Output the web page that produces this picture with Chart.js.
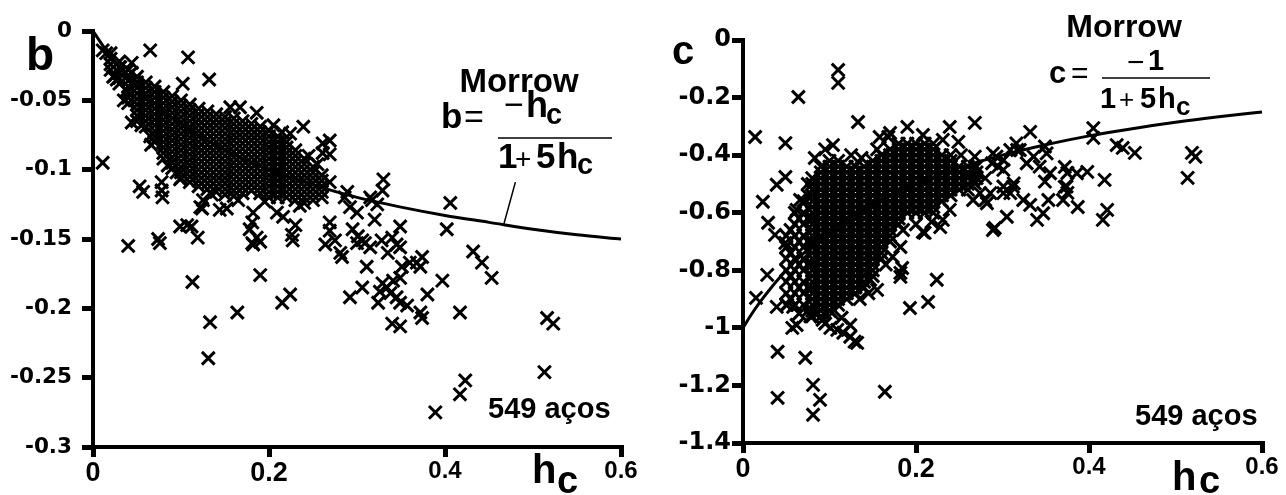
<!DOCTYPE html>
<html>
<head>
<meta charset="utf-8">
<script src="https://cdn.jsdelivr.net/npm/chart.js@4.4.1/dist/chart.umd.min.js"></script>
<style>
  body { margin: 0; background: #fff; }
  #wrap { display: flex; width: 1286px; height: 495px; }
  canvas { display: block; }
</style>
</head>
<body>
<div id="wrap">
  <canvas id="chartB" width="643" height="495"></canvas>
  <canvas id="chartC" width="643" height="495"></canvas>
</div>
<script>
const FONT = "'Liberation Sans', Arial, sans-serif";
const TICK_FONT = "'DejaVu Sans', sans-serif";

// Morrow curve
const curveHc = [0, 0.01, 0.02, 0.03, 0.05, 0.075, 0.1, 0.15, 0.2, 0.25, 0.3, 0.35, 0.4, 0.45, 0.5, 0.55, 0.6];
const curveB = [0, -0.0095, -0.018, -0.026, -0.04, -0.055, -0.067, -0.086, -0.1, -0.111, -0.12, -0.127, -0.133, -0.138, -0.143, -0.147, -0.15];
const curveC = [-1, -0.952, -0.909, -0.87, -0.8, -0.727, -0.667, -0.571, -0.5, -0.444, -0.4, -0.364, -0.333, -0.308, -0.286, -0.267, -0.25];

// pointer from the formula to the curve (left panel)
const leaderHc = [0.48, 0.467];
const leaderB = [-0.109, -0.139];

const xTicks = [0, 0.2, 0.4, 0.6];

// left panel: isolated points [hc, b]
const bLoose = [
  [0.011,-0.014],[0.065,-0.014],[0.108,-0.019],[0.132,-0.035],[0.102,-0.038],[0.025,-0.032],[0.015,-0.016],
  [0.023,-0.033],[0.031,-0.026],[0.044,-0.023],[0.044,-0.03],[0.038,-0.043],[0.027,-0.035],[0.044,-0.066],
  [0.011,-0.095],[0.053,-0.112],[0.057,-0.116],[0.078,-0.109],[0.078,-0.115],[0.079,-0.12],[0.099,-0.107],
  [0.065,-0.076],[0.122,-0.127],[0.099,-0.141],[0.112,-0.141],[0.074,-0.15],[0.076,-0.153],[0.119,-0.149],
  [0.107,-0.14],[0.04,-0.155],[0.144,-0.129],[0.125,-0.122],[0.124,-0.128],[0.152,-0.128],[0.156,-0.055],
  [0.167,-0.055],[0.186,-0.059],[0.224,-0.074],[0.239,-0.069],[0.261,-0.081],[0.261,-0.088],[0.113,-0.181],
  [0.133,-0.21],[0.131,-0.236],[0.164,-0.203],[0.182,-0.154],[0.19,-0.152],[0.19,-0.176],[0.215,-0.196],
  [0.224,-0.19],[0.227,-0.151],[0.226,-0.147],[0.23,-0.14],[0.186,-0.149],[0.181,-0.153],[0.178,-0.143],
  [0.181,-0.138],[0.182,-0.131],[0.209,-0.131],[0.216,-0.134],[0.264,-0.154],
  [0.269,-0.079],[0.269,-0.089],[0.269,-0.109],[0.33,-0.107],[0.329,-0.115],[0.317,-0.122],[0.286,-0.12],
  [0.289,-0.116],[0.292,-0.127],[0.3,-0.131],[0.315,-0.12],[0.323,-0.125],[0.406,-0.124],[0.402,-0.143],
  [0.349,-0.141],[0.32,-0.136],[0.269,-0.138],[0.269,-0.144],[0.275,-0.151],[0.283,-0.163],[0.295,-0.143],
  [0.301,-0.148],[0.309,-0.153],[0.432,-0.159],[0.442,-0.167],[0.453,-0.178],[0.397,-0.18],[0.417,-0.203],
  [0.516,-0.207],[0.523,-0.211],[0.513,-0.246],[0.423,-0.252],[0.417,-0.262],[0.389,-0.275],
  [0.3,-0.153],[0.281,-0.16],[0.306,-0.151],[0.315,-0.156],[0.328,-0.151],[0.34,-0.149],[0.349,-0.156],
  [0.335,-0.16],[0.345,-0.154],[0.311,-0.17],[0.306,-0.185],[0.292,-0.192],[0.324,-0.196],[0.334,-0.185],
  [0.338,-0.189],[0.345,-0.192],[0.357,-0.198],[0.349,-0.178],[0.351,-0.17],[0.368,-0.167],[0.374,-0.163],
  [0.372,-0.17],[0.38,-0.19],[0.372,-0.203],[0.374,-0.207],[0.34,-0.211],[0.349,-0.213],[0.329,-0.182],
  [0.341,-0.18],[0.36,-0.167],[0.326,-0.188],[0.349,-0.196],
  [0.035,-0.05],[0.055,-0.068],[0.066,-0.082],[0.085,-0.097],[0.095,-0.102],[0.205,-0.068],[0.215,-0.073],
  [0.245,-0.09],[0.255,-0.096],[0.235,-0.126],[0.195,-0.123],[0.165,-0.122],[0.135,-0.118]
];

// left panel: dense band, [hc, [b values]]
const bBand = [
  [0.02, [-0.016, -0.02, -0.024, -0.028]],
  [0.03, [-0.022, -0.026, -0.03, -0.034, -0.038]],
  [0.04, [-0.028, -0.032, -0.036, -0.04, -0.044, -0.048, -0.052]],
  [0.05, [-0.033, -0.037, -0.041, -0.045, -0.049, -0.053, -0.057, -0.061, -0.065]],
  [0.06, [-0.037, -0.041, -0.045, -0.049, -0.053, -0.057, -0.061, -0.065, -0.069]],
  [0.07, [-0.04, -0.044, -0.048, -0.052, -0.056, -0.06, -0.064, -0.068, -0.072, -0.076, -0.08]],
  [0.08, [-0.044, -0.048, -0.052, -0.056, -0.06, -0.064, -0.068, -0.072, -0.076, -0.08, -0.084, -0.088, -0.092]],
  [0.09, [-0.047, -0.051, -0.055, -0.059, -0.063, -0.067, -0.071, -0.075, -0.079, -0.083, -0.087, -0.091, -0.095, -0.099]],
  [0.1, [-0.05, -0.054, -0.058, -0.062, -0.066, -0.07, -0.074, -0.078, -0.082, -0.086, -0.09, -0.094, -0.098, -0.102, -0.106]],
  [0.11, [-0.053, -0.057, -0.061, -0.065, -0.069, -0.073, -0.077, -0.081, -0.085, -0.089, -0.093, -0.097, -0.101, -0.105, -0.109]],
  [0.12, [-0.056, -0.06, -0.064, -0.068, -0.072, -0.076, -0.08, -0.084, -0.088, -0.092, -0.096, -0.1, -0.104, -0.108, -0.112]],
  [0.13, [-0.058, -0.062, -0.066, -0.07, -0.074, -0.078, -0.082, -0.086, -0.09, -0.094, -0.098, -0.102, -0.106, -0.11, -0.114]],
  [0.14, [-0.06, -0.064, -0.068, -0.072, -0.076, -0.08, -0.084, -0.088, -0.092, -0.096, -0.1, -0.104, -0.108, -0.112, -0.116]],
  [0.15, [-0.062, -0.066, -0.07, -0.074, -0.078, -0.082, -0.086, -0.09, -0.094, -0.098, -0.102, -0.106, -0.11, -0.114, -0.118]],
  [0.16, [-0.063, -0.067, -0.071, -0.075, -0.079, -0.083, -0.087, -0.091, -0.095, -0.099, -0.103, -0.107, -0.111, -0.115, -0.119]],
  [0.17, [-0.065, -0.069, -0.073, -0.077, -0.081, -0.085, -0.089, -0.093, -0.097, -0.101, -0.105, -0.109, -0.113, -0.117]],
  [0.18, [-0.067, -0.071, -0.075, -0.079, -0.083, -0.087, -0.091, -0.095, -0.099, -0.103, -0.107, -0.111, -0.115]],
  [0.19, [-0.069, -0.073, -0.077, -0.081, -0.085, -0.089, -0.093, -0.097, -0.101, -0.105, -0.109, -0.113, -0.117]],
  [0.2, [-0.072, -0.076, -0.08, -0.084, -0.088, -0.092, -0.096, -0.1, -0.104, -0.108, -0.112, -0.116, -0.12]],
  [0.21, [-0.076, -0.08, -0.084, -0.088, -0.092, -0.096, -0.1, -0.104, -0.108, -0.112, -0.116, -0.12]],
  [0.22, [-0.08, -0.084, -0.088, -0.092, -0.096, -0.1, -0.104, -0.108, -0.112, -0.116, -0.12]],
  [0.23, [-0.086, -0.09, -0.094, -0.098, -0.102, -0.106, -0.11, -0.114, -0.118, -0.122]],
  [0.24, [-0.092, -0.096, -0.1, -0.104, -0.108, -0.112, -0.116, -0.12, -0.124]],
  [0.25, [-0.098, -0.102, -0.106, -0.11, -0.114, -0.118, -0.122]],
  [0.26, [-0.104, -0.108, -0.112, -0.116, -0.12]]
];

// right panel: isolated points [hc, c]
const cLoose = [
  [0.11,-0.104],[0.11,-0.149],[0.064,-0.198],[0.133,-0.285],[0.014,-0.337],[0.049,-0.358],[0.039,-0.503],
  [0.049,-0.476],[0.023,-0.562],[0.029,-0.635],[0.037,-0.677],[0.049,-0.705],[0.028,-0.816],[0.015,-0.896],
  [0.039,-0.927],[0.051,-0.92],[0.058,-0.927],[0.057,-1.0],[0.062,-0.99],[0.04,-1.083],[0.072,-1.104],
  [0.04,-1.243],[0.081,-1.198],[0.089,-1.25],[0.081,-1.302],[0.164,-1.222],[0.193,-0.931],[0.214,-0.91],
  [0.224,-0.833],[0.132,-1.052],[0.129,-1.048],[0.19,-0.302],[0.239,-0.302],[0.158,-0.337],[0.17,-0.323],
  [0.168,-0.337],[0.208,-0.33],[0.231,-0.347],[0.249,-0.354],[0.208,-0.667],[0.218,-0.632],[0.231,-0.625],
  [0.21,-0.67],[0.228,-0.65],[0.239,-0.59],[0.182,-0.823],[0.184,-0.792],[0.182,-0.809],[0.173,-0.753],
  [0.182,-0.719],[0.155,-0.868],[0.147,-0.833],[0.066,-0.556],[0.062,-0.59],
  [0.086,-0.948],[0.092,-0.972],[0.101,-1.0],[0.109,-1.007],[0.116,-1.017],[0.124,-1.031],[0.103,-0.948],
  [0.114,-0.965],[0.124,-0.99],[0.078,-0.96],[0.095,-0.985],
  [0.268,-0.288],[0.332,-0.319],[0.405,-0.306],[0.405,-0.34],[0.432,-0.365],[0.439,-0.375],[0.453,-0.392],
  [0.519,-0.392],[0.523,-0.406],[0.514,-0.479],[0.418,-0.486],[0.398,-0.458],[0.421,-0.59],[0.416,-0.625],
  [0.387,-0.58],[0.375,-0.462],[0.372,-0.441],[0.372,-0.51],[0.375,-0.531],[0.289,-0.66],[0.305,-0.614],
  [0.34,-0.625],[0.347,-0.602],[0.353,-0.556],[0.324,-0.556],[0.332,-0.573],[0.349,-0.492],[0.355,-0.463],
  [0.343,-0.44],[0.328,-0.428],[0.336,-0.405],[0.32,-0.382],[0.316,-0.359],[0.309,-0.382],[0.293,-0.405],
  [0.288,-0.428],[0.295,-0.44],[0.301,-0.451],[0.268,-0.405],[0.268,-0.44],[0.266,-0.486],[0.268,-0.498],
  [0.274,-0.532],[0.28,-0.556],[0.286,-0.532],[0.301,-0.509],[0.309,-0.532],[0.313,-0.498],[0.351,-0.394],
  [0.349,-0.37],[0.37,-0.556],[0.374,-0.509],[0.386,-0.463],[0.289,-0.394],[0.301,-0.417],[0.317,-0.382],
  [0.266,-0.556],[0.282,-0.567],[0.301,-0.532],[0.312,-0.51],[0.291,-0.653],
  [0.083,-0.41],[0.095,-0.38],[0.104,-0.365],[0.125,-0.4],[0.137,-0.41],[0.155,-0.38],[0.2,-0.64],
  [0.165,-0.78],[0.145,-0.88],[0.135,-0.9],[0.185,-0.66],[0.075,-0.5],[0.065,-0.95],[0.252,-0.4]
];

// right panel: dense cloud, [hc, [c values]]
const cBand = [
  [0.05, [-0.68, -0.72, -0.76, -0.8, -0.84, -0.88, -0.92]],
  [0.055, [-0.66, -0.74, -0.82, -0.9]],
  [0.06, [-0.6, -0.64, -0.68, -0.72, -0.76, -0.8, -0.84, -0.88, -0.92]],
  [0.065, [-0.62, -0.7, -0.78, -0.86]],
  [0.07, [-0.56, -0.6, -0.64, -0.68, -0.72, -0.76, -0.8, -0.84, -0.88, -0.92]],
  [0.075, [-0.54, -0.62, -0.7, -0.78, -0.86, -0.94]],
  [0.08, [-0.48, -0.5, -0.52, -0.54, -0.56, -0.58, -0.6, -0.62, -0.64, -0.66, -0.68, -0.7, -0.72, -0.74, -0.76, -0.78, -0.8, -0.82, -0.84, -0.86, -0.88, -0.9, -0.92, -0.94, -0.96]],
  [0.09, [-0.44, -0.46, -0.48, -0.5, -0.52, -0.54, -0.56, -0.58, -0.6, -0.62, -0.64, -0.66, -0.68, -0.7, -0.72, -0.74, -0.76, -0.78, -0.8, -0.82, -0.84, -0.86, -0.88, -0.9, -0.92, -0.94, -0.96]],
  [0.1, [-0.42, -0.44, -0.46, -0.48, -0.5, -0.52, -0.54, -0.56, -0.58, -0.6, -0.62, -0.64, -0.66, -0.68, -0.7, -0.72, -0.74, -0.76, -0.78, -0.8, -0.82, -0.84, -0.86, -0.88, -0.9, -0.92, -0.94]],
  [0.11, [-0.42, -0.44, -0.46, -0.48, -0.5, -0.52, -0.54, -0.56, -0.58, -0.6, -0.62, -0.64, -0.66, -0.68, -0.7, -0.72, -0.74, -0.76, -0.78, -0.8, -0.82, -0.84, -0.86, -0.88, -0.9, -0.92]],
  [0.12, [-0.44, -0.46, -0.48, -0.5, -0.52, -0.54, -0.56, -0.58, -0.6, -0.62, -0.64, -0.66, -0.68, -0.7, -0.72, -0.74, -0.76, -0.78, -0.8, -0.82, -0.84, -0.86, -0.88, -0.9]],
  [0.13, [-0.44, -0.46, -0.48, -0.5, -0.52, -0.54, -0.56, -0.58, -0.6, -0.62, -0.64, -0.66, -0.68, -0.7, -0.72, -0.74, -0.76, -0.78, -0.8, -0.82, -0.84, -0.86, -0.88]],
  [0.14, [-0.44, -0.46, -0.48, -0.5, -0.52, -0.54, -0.56, -0.58, -0.6, -0.62, -0.64, -0.66, -0.68, -0.7, -0.72, -0.74, -0.76, -0.78, -0.8, -0.82, -0.84, -0.86]],
  [0.15, [-0.42, -0.44, -0.46, -0.48, -0.5, -0.52, -0.54, -0.56, -0.58, -0.6, -0.62, -0.64, -0.66, -0.68, -0.7, -0.72, -0.74, -0.76, -0.78, -0.8, -0.82]],
  [0.16, [-0.4, -0.42, -0.44, -0.46, -0.48, -0.5, -0.52, -0.54, -0.56, -0.58, -0.6, -0.62, -0.64, -0.66, -0.68, -0.7, -0.72, -0.74, -0.76]],
  [0.17, [-0.38, -0.4, -0.42, -0.44, -0.46, -0.48, -0.5, -0.52, -0.54, -0.56, -0.58, -0.6, -0.62, -0.64, -0.66, -0.68, -0.7]],
  [0.18, [-0.36, -0.38, -0.4, -0.42, -0.44, -0.46, -0.48, -0.5, -0.52, -0.54, -0.56, -0.58, -0.6, -0.62, -0.64]],
  [0.19, [-0.36, -0.38, -0.4, -0.42, -0.44, -0.46, -0.48, -0.5, -0.52, -0.54, -0.56, -0.58, -0.6]],
  [0.2, [-0.36, -0.38, -0.4, -0.42, -0.44, -0.46, -0.48, -0.5, -0.52, -0.54, -0.56, -0.58, -0.6]],
  [0.21, [-0.36, -0.38, -0.4, -0.42, -0.44, -0.46, -0.48, -0.5, -0.52, -0.54, -0.56, -0.58, -0.6]],
  [0.22, [-0.36, -0.38, -0.4, -0.42, -0.44, -0.46, -0.48, -0.5, -0.52, -0.54, -0.56, -0.58, -0.6]],
  [0.23, [-0.4, -0.42, -0.44, -0.46, -0.48, -0.5, -0.52, -0.54, -0.56]],
  [0.24, [-0.4, -0.42, -0.44, -0.46, -0.48, -0.5, -0.52, -0.54]],
  [0.25, [-0.44, -0.46, -0.48, -0.5, -0.52]],
  [0.26, [-0.44, -0.46, -0.48, -0.5, -0.52]],
  [0.27, [-0.44, -0.46, -0.48]],
  [0.28, [-0.48]]
];

const toPoints = (loose, band) => {
  const pts = loose.map(p => ({ x: p[0], y: p[1] }));
  band.forEach(row => row[1].forEach(v => pts.push({ x: row[0], y: v })));
  return pts;
};

const curvePoints = ys => curveHc.map((h, i) => ({ x: h, y: ys[i] }));

// text and formula drawn on top of each chart
const textLayer = (items, bars) => ({
  id: 'textLayer',
  afterDraw(chart) {
    const ctx = chart.ctx;
    ctx.save();
    ctx.fillStyle = '#000';
    ctx.strokeStyle = '#000';
    ctx.textBaseline = 'alphabetic';
    items.forEach(it => {
      ctx.font = `${it.w || 'bold'} ${it.s}px ${FONT}`;
      ctx.textAlign = it.a || 'left';
      ctx.fillText(it.t, it.x, it.y);
    });
    bars.forEach(b => {
      ctx.lineWidth = 1.5;
      ctx.beginPath();
      ctx.moveTo(b[0], b[2]);
      ctx.lineTo(b[1], b[2]);
      ctx.stroke();
    });
    ctx.restore();
  }
});

const scatterSet = data => ({
  data,
  pointStyle: 'crossRot',
  pointRadius: 9,
  pointBorderWidth: 3,
  borderColor: '#000',
  backgroundColor: '#000',
  showLine: false,
  clip: false
});

const lineSet = (data, w) => ({
  data,
  showLine: true,
  pointRadius: 0,
  borderColor: '#000',
  borderWidth: w,
  cubicInterpolationMode: 'monotone',
  clip: false
});

const makeOptions = (o) => ({
  responsive: false,
  animation: false,
  layout: { padding: { top: o.top, right: o.right, left: 0, bottom: 0 } },
  plugins: { legend: { display: false }, tooltip: { enabled: false } },
  scales: {
    x: {
      type: 'linear',
      min: 0,
      max: 0.6,
      afterFit: s => { s.height = o.xh; },
      afterBuildTicks: s => { s.ticks = xTicks.map(v => ({ value: v })); },
      border: { display: true, width: 4, color: '#000' },
      grid: { drawOnChartArea: false, drawTicks: true, tickLength: 10, tickWidth: 5, lineWidth: 5, color: '#000' },
      ticks: {
        padding: 0,
        color: '#000',
        maxRotation: 0,
        autoSkip: false,
        font: ctx => ({ family: FONT, weight: 'bold', size: ctx.tick && ctx.tick.value > 0.3 ? 24 : 27 }),
        callback: v => v === 0 ? '0' : v.toFixed(1)
      }
    },
    y: {
      type: 'linear',
      min: o.yMin,
      max: 0,
      afterFit: s => { s.width = o.yw; },
      border: { display: true, width: 4, color: '#000' },
      grid: { drawOnChartArea: false, drawTicks: true, tickLength: 11, tickWidth: 5, lineWidth: 5, color: '#000' },
      ticks: {
        stepSize: o.yStep,
        padding: o.yPad,
        color: '#000',
        autoSkip: false,
        font: { family: TICK_FONT, weight: 'bold', size: o.yFont },
        callback: v => String(Math.round(v * 100) / 100)
      }
    }
  }
});

// left chart: b
new Chart(document.getElementById('chartB'), {
  type: 'scatter',
  data: {
    datasets: [
      lineSet(curvePoints(curveB), 3),
      lineSet(leaderHc.map((h, i) => ({ x: h, y: leaderB[i] })), 1.5),
      scatterSet(toPoints(bLoose, bBand))
    ]
  },
  options: makeOptions({ top: 31, right: 22, xh: 48, yw: 93, yMin: -0.3, yStep: 0.05, yPad: 10, yFont: 21.5 }),
  plugins: [textLayer([
    { t: 'b', x: 26, y: 70, s: 46 },
    { t: 'Morrow', x: 519, y: 92, s: 33, a: 'center' },
    { t: 'b', x: 441, y: 128, s: 35 },
    { t: '=', x: 464, y: 128, s: 34, w: 'normal' },
    { t: '\u2212', x: 504, y: 116, s: 34, w: 'normal' },
    { t: 'h', x: 526, y: 117, s: 36 },
    { t: 'c', x: 546, y: 124, s: 29 },
    { t: '1', x: 498, y: 168, s: 35 },
    { t: '+', x: 515, y: 168, s: 28, w: 'normal' },
    { t: '5', x: 536, y: 168, s: 35 },
    { t: 'h', x: 557, y: 168, s: 35 },
    { t: 'c', x: 577, y: 174, s: 29 },
    { t: '549 aços', x: 488, y: 418, s: 29 },
    { t: 'h', x: 532, y: 483, s: 40 },
    { t: 'c', x: 557, y: 493, s: 38 }
  ], [[498, 612, 138]])]
});

// right chart: c
new Chart(document.getElementById('chartC'), {
  type: 'scatter',
  data: {
    datasets: [
      lineSet(curvePoints(curveC), 3),
      scatterSet(toPoints(cLoose, cBand))
    ]
  },
  options: makeOptions({ top: 40, right: 24, xh: 52, yw: 100, yMin: -1.4, yStep: 0.2, yPad: 1, yFont: 24 }),
  plugins: [textLayer([
    { t: 'c', x: 29, y: 64, s: 40 },
    { t: 'Morrow', x: 481, y: 37, s: 32, a: 'center' },
    { t: 'c', x: 406, y: 83, s: 31 },
    { t: '=', x: 428, y: 83, s: 30, w: 'normal' },
    { t: '\u2212', x: 484, y: 72, s: 30, w: 'normal' },
    { t: '1', x: 505, y: 70, s: 29 },
    { t: '1', x: 457, y: 108, s: 29 },
    { t: '+', x: 476, y: 108, s: 26, w: 'normal' },
    { t: '5', x: 497, y: 108, s: 29 },
    { t: 'h', x: 515, y: 108, s: 29 },
    { t: 'c', x: 533, y: 115, s: 26 },
    { t: '549 aços', x: 492, y: 425, s: 29 },
    { t: 'h', x: 529, y: 490, s: 40 },
    { t: 'c', x: 556, y: 493, s: 38 }
  ], [[459, 567, 78]])]
});
</script>
</body>
</html>
